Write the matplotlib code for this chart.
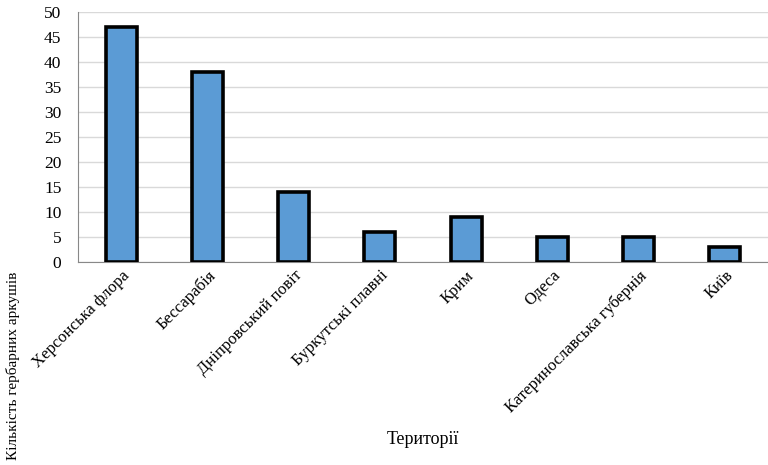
import matplotlib
matplotlib.use("Agg")
import matplotlib.pyplot as plt

categories = ["Херсонська флора", "Бессарабія", "Дніпровський повіт", "Буркутські плавні",
              "Крим", "Одеса", "Катеринославська губернія", "Київ"]
values = [47, 38, 14, 6, 9, 5, 5, 3]
yticks = [0, 5, 10, 15, 20, 25, 30, 35, 40, 45, 50]

plt.rcParams['font.family'] = ['Liberation Serif', 'DejaVu Serif']

fig = plt.figure(figsize=(7.68, 4.65), dpi=100)
ax = fig.add_axes([0.1016, 0.4366, 0.8984, 0.5376])

x = list(range(len(categories)))
ax.bar(x, values, width=0.36, color='#5B9BD5', edgecolor='black', linewidth=2.6, zorder=3)

ax.set_xlim(-0.5, len(categories) - 0.5)
ax.set_ylim(0, 50)
ax.set_yticks(yticks)
ax.set_yticklabels([str(v) for v in yticks], fontsize=12.5)
ax.set_xticks(x)
ax.set_xticklabels(categories, rotation=45, ha='right', rotation_mode='anchor', fontsize=12)
ax.tick_params(axis='both', length=0)
ax.tick_params(axis='y', pad=12)
ax.tick_params(axis='x', pad=4)
ax.yaxis.grid(True, color='#d9d9d9', linewidth=1, zorder=0)
ax.set_axisbelow(True)
for s in ['top', 'right']:
    ax.spines[s].set_visible(False)
ax.spines['left'].set_color('#888888')
ax.spines['bottom'].set_color('#888888')

fig.text(0.551, 0.055, "Території", ha='center', va='center', fontsize=13)
fig.text(0.017, 0.213, "Кількість гербарних аркушів", rotation=90, ha='center', va='center', fontsize=11)

fig.savefig("out.png", dpi=100)
